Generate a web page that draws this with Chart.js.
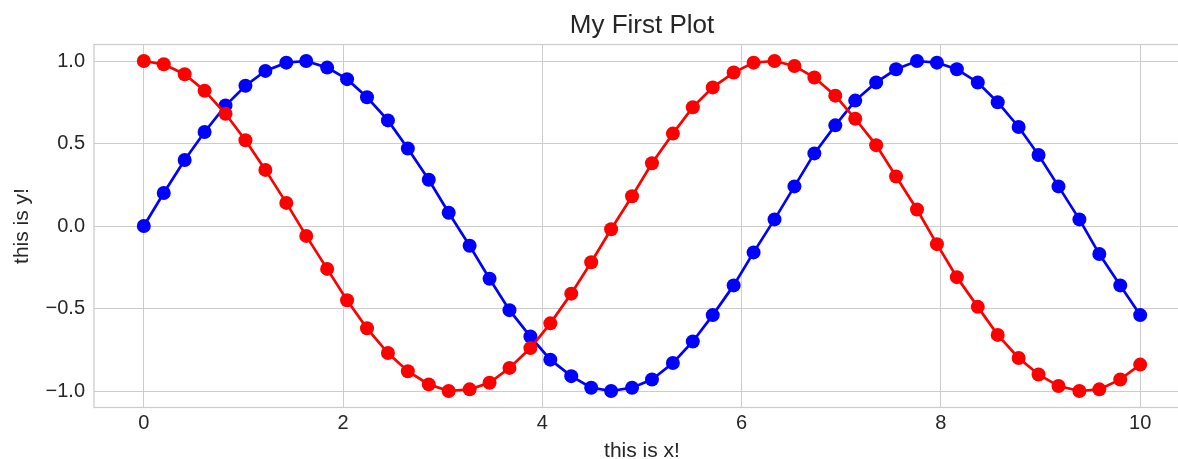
<!DOCTYPE html>
<html>
<head>
<meta charset="utf-8">
<script src="https://cdn.jsdelivr.net/npm/chart.js@4.4.1/dist/chart.umd.min.js"></script>
<style>
html,body{margin:0;padding:0;background:#fff;overflow:hidden;}
#wrap{width:1200px;height:459px;}
</style>
</head>
<body>
<div id="wrap"><canvas id="c" width="1200" height="459"></canvas></div>
<script>
const xValues = [0, 0.20, 0.41, 0.61, 0.82, 1.02, 1.22, 1.43, 1.63, 1.84, 2.04, 2.24, 2.45, 2.65, 2.86, 3.06, 3.27, 3.47, 3.67, 3.88, 4.08, 4.29, 4.49, 4.69, 4.90, 5.10, 5.31, 5.51, 5.71, 5.92, 6.12, 6.33, 6.53, 6.73, 6.94, 7.14, 7.35, 7.55, 7.76, 7.96, 8.16, 8.37, 8.57, 8.78, 8.98, 9.18, 9.39, 9.59, 9.80, 10.00];
const blueValues = [0, 0.20, 0.40, 0.57, 0.73, 0.85, 0.94, 0.99, 1.00, 0.96, 0.89, 0.78, 0.64, 0.47, 0.28, 0.08, -0.12, -0.32, -0.51, -0.67, -0.81, -0.91, -0.98, -1.00, -0.98, -0.93, -0.83, -0.70, -0.54, -0.36, -0.16, 0.04, 0.24, 0.44, 0.61, 0.76, 0.87, 0.95, 1.00, 0.99, 0.95, 0.87, 0.75, 0.60, 0.43, 0.24, 0.04, -0.17, -0.36, -0.54];
const redValues = [1.00, 0.98, 0.92, 0.82, 0.68, 0.52, 0.34, 0.14, -0.06, -0.26, -0.45, -0.62, -0.77, -0.88, -0.96, -1.00, -0.99, -0.95, -0.86, -0.74, -0.59, -0.41, -0.22, -0.02, 0.18, 0.38, 0.56, 0.72, 0.84, 0.93, 0.99, 1.00, 0.97, 0.90, 0.79, 0.65, 0.49, 0.30, 0.10, -0.11, -0.31, -0.49, -0.66, -0.80, -0.90, -0.97, -1.00, -0.99, -0.93, -0.84];
const xTicks = [0, 2, 4, 6, 8, 10];
const yTicks = [-1.0, -0.5, 0.0, 0.5, 1.0];
const titleText = "My First Plot";
const xLabel = "this is x!";
const yLabel = "this is y!";

const FONT = "'Liberation Sans', Arial, sans-serif";
const TEXT = '#262626';
const GRID = '#cccccc';

const frame = {
  id: 'frame',
  afterDraw(chart) {
    const a = chart.chartArea, ctx = chart.ctx;
    ctx.save();
    ctx.strokeStyle = GRID;
    ctx.lineWidth = 1.25;
    ctx.strokeRect(a.left, a.top, a.right - a.left, a.bottom - a.top);
    ctx.fillStyle = TEXT;
    ctx.font = "26px " + FONT;
    ctx.textAlign = 'center';
    ctx.textBaseline = 'alphabetic';
    ctx.fillText(titleText, (a.left + a.right) / 2, 32.5);
    ctx.restore();
  }
};

const pts = ys => xValues.map((x, i) => ({x: x, y: ys[i]}));

new Chart(document.getElementById('c'), {
  type: 'line',
  data: {
    datasets: [
      {data: pts(blueValues), borderColor: '#0000ff', backgroundColor: '#0000ff', borderWidth: 2.7,
       pointRadius: 7, pointBorderWidth: 0, pointBackgroundColor: '#0000ff', tension: 0, order: 1},
      {data: pts(redValues), borderColor: '#ff0000', backgroundColor: '#ff0000', borderWidth: 2.7,
       pointRadius: 7, pointBorderWidth: 0, pointBackgroundColor: '#ff0000', tension: 0, order: 0}
    ]
  },
  options: {
    responsive: false,
    animation: false,
    events: [],
    layout: {padding: {left: 0, right: 10, top: 44.5, bottom: 0}},
    plugins: {
      legend: {display: false},
      tooltip: {enabled: false},
      title: {display: false}
    },
    scales: {
      x: {
        type: 'linear', min: -0.5, max: 10.5,
        afterBuildTicks: s => { s.ticks = xTicks.map(v => ({value: v})); },
        afterFit: s => { s.height = 51.5; },
        ticks: {color: TEXT, padding: 4, font: {family: FONT, size: 20}, callback: v => String(v)},
        grid: {color: GRID, lineWidth: 1, drawTicks: false},
        border: {display: false},
        title: {display: true, text: xLabel, color: TEXT, font: {family: FONT, size: 21, lineHeight: 0.7}, padding: 0}
      },
      y: {
        type: 'linear', min: -1.1, max: 1.1,
        afterBuildTicks: s => { s.ticks = yTicks.map(v => ({value: v})); },
        afterFit: s => { s.width = 94; },
        ticks: {color: TEXT, padding: 9, font: {family: FONT, size: 20},
                callback: v => (v < 0 ? '\u2212' : '') + Math.abs(v).toFixed(1)},
        grid: {color: GRID, lineWidth: 1, drawTicks: false},
        border: {display: false},
        title: {display: true, text: yLabel, color: TEXT, font: {family: FONT, size: 21, lineHeight: 1.2}, padding: {top: 10, bottom: 0}}
      }
    }
  },
  plugins: [frame]
});
</script>
</body>
</html>
